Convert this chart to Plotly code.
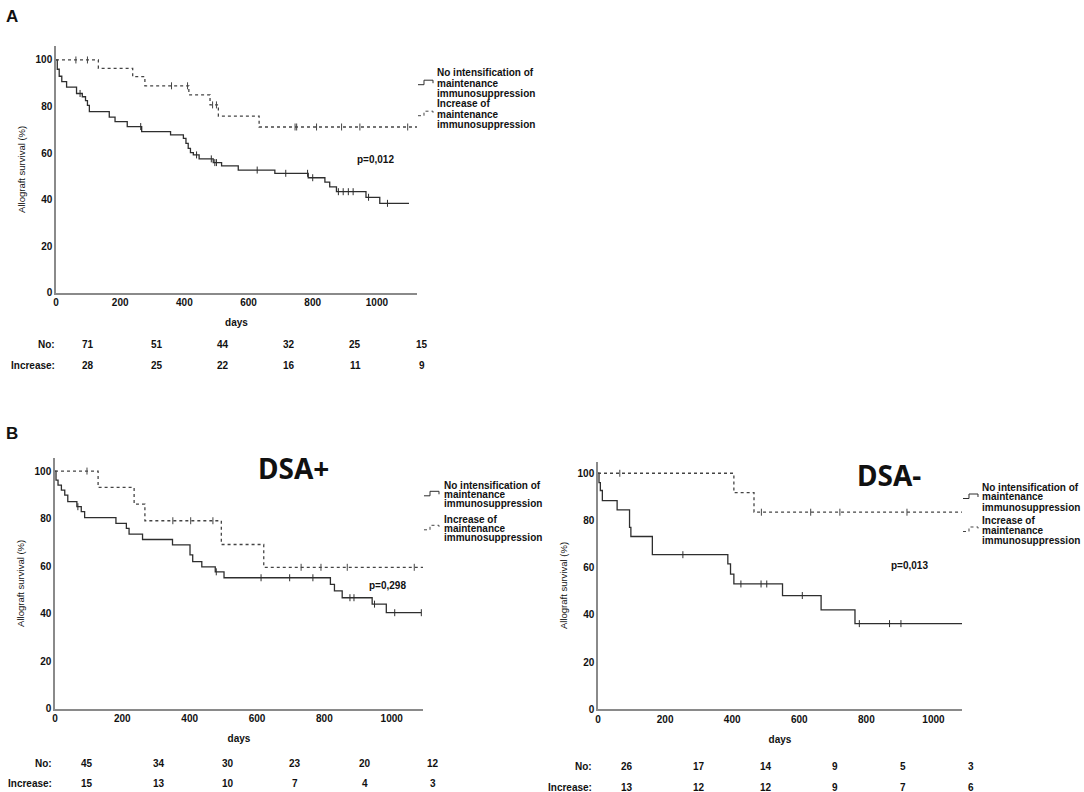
import numpy as np
import plotly.graph_objects as go

W, H = 1084, 792
FONT = "Liberation Sans, Arial, sans-serif"

# ---- data (days, survival %) ----
# A: all patients
a_no_t = [0, 4, 10, 18, 33, 64, 82, 92, 98, 104, 166, 184, 222, 267, 357, 397, 405, 412, 419,
          428, 446, 490, 516, 568, 682, 786, 838, 853, 874, 966, 1009, 1100]
a_no_s = [100, 96, 93, 90.7, 88.3, 85.6, 84.2, 82.5, 80.5, 77.8, 75.4, 73.5, 71.4, 69.2, 67.8,
          66.3, 64.2, 62, 60.2, 59.2, 57.5, 55.9, 54.5, 52.7, 51.3, 49.4, 47.5, 45.5, 43.4, 41,
          38.4, 38.4]
a_no_c = [75, 264, 438, 484, 495, 500, 627, 716, 784, 800, 880, 895, 911, 926, 974, 1033]

a_inc_t = [0, 132, 239, 277, 414, 480, 506, 633, 1125]
a_inc_s = [100, 96.4, 92.8, 88.9, 85, 80.7, 75.9, 71.2, 71.2]
a_inc_c = [62, 98, 360, 410, 488, 500, 745, 750, 812, 890, 947, 1096]

# B: DSA+
bp_no_t = [0, 3, 9, 19, 29, 38, 65, 78, 88, 181, 212, 220, 260, 349, 401, 409, 436, 476, 502,
           818, 830, 853, 942, 984, 1088]
bp_no_s = [100, 96.2, 94.1, 92, 89.9, 87.1, 85, 82.9, 80.4, 78, 75.9, 73.5, 71.2, 68.9, 64.7,
           61.9, 59.7, 57.6, 55.1, 52.3, 49.6, 46.7, 44, 40.4, 40.4]
bp_no_c = [68, 479, 612, 697, 766, 876, 888, 949, 1009, 1088]

bp_inc_t = [0, 128, 235, 267, 494, 620, 1093]
bp_inc_s = [100, 93.1, 86.1, 79.1, 69.1, 59.5, 59.5]
bp_inc_c = [95, 350, 403, 469, 731, 790, 868, 1067]

# B: DSA-
bm_no_t = [0, 3, 7, 13, 57, 94, 98, 162, 387, 395, 405, 550, 665, 766, 1085]
bm_no_s = [100, 96, 92.7, 88.4, 84.5, 77.1, 73.2, 65.5, 61.6, 57.3, 53.1, 48.2, 42.1, 36.3, 36.3]
bm_no_c = [253, 426, 486, 503, 609, 779, 869, 903]

bm_inc_t = [0, 405, 465, 1085]
bm_inc_s = [100, 91.8, 83.5, 83.5]
bm_inc_c = [65, 487, 634, 721, 921]

# numbers at risk
a_risk_no = [71, 51, 44, 32, 25, 15]
a_risk_inc = [28, 25, 22, 16, 11, 9]
bp_risk_no = [45, 34, 30, 23, 20, 12]
bp_risk_inc = [15, 13, 10, 7, 4, 3]
bm_risk_no = [26, 17, 14, 9, 5, 3]
bm_risk_inc = [13, 12, 12, 9, 7, 6]

p_values = ["p=0,012", "p=0,298", "p=0,013"]
group_lines = [["No intensification of", "maintenance", "immunosuppression"],
               ["Increase of", "maintenance", "immunosuppression"]]


def px(x):
    return x / W


def py(y):
    return 1 - y / H


def censor_y(t, s, c):
    idx = np.searchsorted(np.array(t), np.array(c), side="right") - 1
    return np.array(s)[idx]


fig = go.Figure()

panels = [
    ("x", "y", a_no_t, a_no_s, a_no_c, a_inc_t, a_inc_s, a_inc_c),
    ("x2", "y2", bp_no_t, bp_no_s, bp_no_c, bp_inc_t, bp_inc_s, bp_inc_c),
    ("x3", "y3", bm_no_t, bm_no_s, bm_no_c, bm_inc_t, bm_inc_s, bm_inc_c),
]

solid_col = "#2e2e2e"
dot_col = "#444444"

for xa, ya, nt, ns, nc, it, is_, ic in panels:
    fig.add_trace(go.Scatter(x=nt, y=ns, mode="lines", line=dict(shape="hv", color=solid_col, width=1.3),
                             name=" ".join(group_lines[0]), xaxis=xa, yaxis=ya, showlegend=False))
    fig.add_trace(go.Scatter(x=it, y=is_, mode="lines",
                             line=dict(shape="hv", color=dot_col, width=1.3, dash="dot"),
                             name=" ".join(group_lines[1]), xaxis=xa, yaxis=ya, showlegend=False))
    fig.add_trace(go.Scatter(x=nc, y=censor_y(nt, ns, nc), mode="markers", showlegend=False,
                             marker=dict(symbol="line-ns", size=5, line=dict(width=1, color=solid_col)),
                             xaxis=xa, yaxis=ya))
    fig.add_trace(go.Scatter(x=ic, y=censor_y(it, is_, ic), mode="markers", showlegend=False,
                             marker=dict(symbol="line-ns", size=5, line=dict(width=1, color=dot_col)),
                             xaxis=xa, yaxis=ya))

tick_font = dict(family=FONT, size=10, color="#111111", weight="bold")
base = dict(showline=True, linecolor="#8a8a8a", linewidth=1.5, showgrid=False, zeroline=False,
            ticks="", tickfont=tick_font, automargin=False, fixedrange=True)


def xax(d0, d1, rmax, anchor):
    return dict(base, domain=[px(d0), px(d1)], range=[0, rmax], tickvals=[0, 200, 400, 600, 800, 1000],
                anchor=anchor,
                title=dict(text="days", standoff=12, font=dict(family=FONT, size=10, color="#111", weight="bold")))


def yax(d_top, d_bot, rmax, anchor):
    return dict(base, domain=[py(d_bot), py(d_top)], range=[0, rmax], tickvals=[0, 20, 40, 60, 80, 100],
                anchor=anchor,
                title=dict(text="Allograft survival (%)", standoff=8,
                           font=dict(family=FONT, size=9.5, color="#111")))


fig.update_layout(
    width=W, height=H, margin=dict(l=0, r=0, t=0, b=0),
    paper_bgcolor="white", plot_bgcolor="white", showlegend=False,
    xaxis=xax(56, 417, 1125, "y"), yaxis=yax(46, 292.7, 106, "x"),
    xaxis2=xax(55, 423, 1093, "y2"), yaxis2=yax(458, 708.7, 105.5, "x2"),
    xaxis3=xax(598, 962, 1085, "y3"), yaxis3=yax(461.7, 709.3, 104.9, "x3"),
)

ann = []
shapes = []


def text(x, y, s, size=10, anchor="center", bold=True, family=FONT):
    ann.append(dict(x=px(x), y=py(y), xref="paper", yref="paper", text=s, showarrow=False,
                    xanchor=anchor, yanchor="middle",
                    font=dict(family=family, size=size, color="#111111", weight="bold" if bold else "normal")))


def legend_block(gx, tx, ys, step):
    # ys: centre of first text line of each group; step: line spacing
    for g, y0 in enumerate(ys):
        for k, line in enumerate(group_lines[g]):
            text(tx, y0 + k * step, line, anchor="left")
        yc = y0 + step
        path = "M{:.5f},{:.5f} L{:.5f},{:.5f} L{:.5f},{:.5f} L{:.5f},{:.5f} L{:.5f},{:.5f}".format(
            px(gx), py(yc + 1.5), px(gx + 6), py(yc + 1.5), px(gx + 6), py(yc - 3),
            px(gx + 15), py(yc - 3), px(gx + 15), py(yc))
        shapes.append(dict(type="path", xref="paper", yref="paper", path=path,
                           line=dict(color=solid_col if g == 0 else dot_col, width=1,
                                     dash="solid" if g == 0 else "dot")))


legend_block(418, 435, [73, 104], 10.2)
legend_block(424, 441.5, [485, 519], 9.3)
legend_block(963, 980, [487, 520], 10)

text(4, 16, "A", size=17, anchor="left")
text(4, 433, "B", size=17, anchor="left")
text(293, 468, "DSA+", size=28, family="Noto Sans, sans-serif")
text(889, 475, "DSA-", size=28, family="Noto Sans, sans-serif")
text(375, 160, p_values[0])
text(387, 585, p_values[1])
text(909, 565, p_values[2])

tables = [
    (57, 344, 365, [88, 157, 223, 289, 355, 422], a_risk_no, a_risk_inc),
    (54, 763, 783, [87, 159, 228, 295, 365, 433], bp_risk_no, bp_risk_inc),
    (594, 766, 787, [627, 699, 766, 835, 903, 971], bm_risk_no, bm_risk_inc),
]
for lx, y1, y2, cols, r_no, r_inc in tables:
    text(lx, y1, "No:", anchor="right")
    text(lx, y2, "Increase:", anchor="right")
    for cx, v1, v2 in zip(cols, r_no, r_inc):
        text(cx, y1, str(v1))
        text(cx, y2, str(v2))

fig.update_layout(annotations=ann, shapes=shapes)

# the page's default 8px body margin would push the figure off the window
fig.write_html("out.html", config={"displayModeBar": False},
               post_script="document.body.style.margin='0';")
